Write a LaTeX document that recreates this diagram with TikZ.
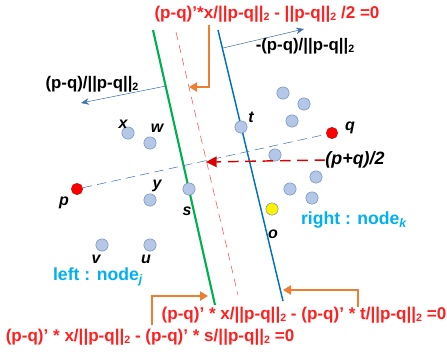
\documentclass[tikz,border=0pt]{standalone}
\usepackage{fontspec}
\setmainfont{Liberation Sans}
\usetikzlibrary{arrows.meta}

\definecolor{eqred}{RGB}{255,32,32}
\definecolor{sepgreen}{RGB}{0,176,80}
\definecolor{sepblue}{RGB}{0,112,192}
\definecolor{arrblue}{RGB}{68,114,176}
\definecolor{brorange}{RGB}{237,125,49}
\definecolor{ptfill}{RGB}{180,199,231}
\definecolor{ptdraw}{RGB}{110,140,190}
\definecolor{nodecyan}{RGB}{0,176,240}

\newcommand{\nrm}[1]{||#1||\raisebox{-0.25ex}{\fontsize{8}{8}\selectfont 2}}

\tikzset{
  pt/.style={circle, draw=ptdraw, fill=ptfill, minimum size=9.2pt, inner sep=0pt},
  redpt/.style={circle, draw=red!80!black, fill=red, minimum size=8.5pt, inner sep=0pt},
  yelpt/.style={circle, draw=ptdraw, fill=yellow, minimum size=9.2pt, inner sep=0pt},
  lbl/.style={font=\bfseries\itshape\fontsize{12}{12}\selectfont, inner sep=0pt},
  eq/.style={text=eqred, font=\bfseries\fontsize{12.8}{14}\selectfont, inner sep=0pt},
  vec/.style={font=\bfseries\fontsize{12.6}{14}\selectfont, inner sep=0pt},
  side/.style={text=nodecyan, font=\bfseries\fontsize{13.2}{14}\selectfont, inner sep=0pt},
  bracket/.style={brorange, thick, -{Triangle[length=6pt,width=7pt]}},
  normal/.style={arrblue, thin, -{Stealth[length=6pt,width=5pt]}}
}

\begin{document}
\begin{tikzpicture}[x=0.75pt,y=-0.75pt]
\useasboundingbox (0,0) rectangle (447,358);

% separating lines
\coordinate (g1) at (153,30);
\coordinate (g2) at (215,305);
\coordinate (m1) at (176,32);
\coordinate (m2) at (238,295);
\coordinate (b1) at (218,30);
\coordinate (b2) at (283,301);
\draw[sepgreen, line width=1.6pt] (g1) -- (g2);
\draw[red!70, dashed, dash pattern=on 6pt off 4pt] (m1) -- (m2);
\draw[sepblue, line width=1.1pt] (b1) -- (b2);

% data points
\node[pt] (x) at (128,133) {};
\node[pt] (w) at (150,143) {};
\node[pt] (t) at (241,127) {};
\node[pt] (r1) at (283,93) {};
\node[pt] (r2) at (304,104) {};
\node[pt] (r3) at (292,121) {};
\node[pt] (r4) at (275,155) {};
\node[pt] (r5) at (316,177) {};
\node[pt] (r6) at (290,189) {};
\node[pt] (r7) at (312,198) {};
\node[yelpt] (o) at (272,209) {};
\node[pt] (y) at (150,200) {};
\node[pt] (s) at (189,189) {};
\node[pt] (v) at (102,245) {};
\node[pt] (u) at (150,245) {};

% p, q and the line between them
\node[redpt] (p) at (77,189) {};
\node[redpt] (q) at (332,133) {};
\draw[arrblue, dashed, dash pattern=on 7pt off 4pt] (p) -- (q);

% point labels
\node[lbl] (xl) at (123,124) {x};
\node[lbl] (wl) at (157,128) {w};
\node[lbl] (tl) at (251,117) {t};
\node[lbl] (ql) at (350,128) {q};
\node[lbl] (pl) at (64,203) {p};
\node[lbl] (yl) at (157,186) {y};
\node[lbl] (sl) at (187,211) {s};
\node[lbl] (vl) at (96,259) {v};
\node[lbl] (ul) at (146,259) {u};
\node[lbl] (ol) at (273,234) {o};

% midpoint
\coordinate (mid) at (206,162);
\node[lbl, font=\bfseries\itshape\fontsize{13.4}{14}\selectfont] (midl) at (355,160) {(p+q)/2};
\draw[red!85!black, dashed, line width=1.1pt, dash pattern=on 8pt off 5pt,
      -{Triangle[length=8pt,width=8pt]}] (midl.west) -- (mid);

% normal directions
\coordinate (nb) at (223,48);
\coordinate (nbt) at (304,29);
\coordinate (ng) at (166,86);
\coordinate (ngt) at (81,103);
\draw[normal] (nb) -- (nbt);
\draw[normal] (ng) -- (ngt);
\node[vec] (nq) at (305,46) {-(p-q)/\nrm{p-q}};
\node[vec] (np) at (92,84) {(p-q)/\nrm{p-q}};

% equations
\node[eq] (eqm) at (267,14) {(p-q)'*x/\nrm{p-q} - \nrm{p-q} /2 =0};
\node[eq] (eqt) at (304,315) {(p-q)' * x/\nrm{p-q} - (p-q)' * t/\nrm{p-q} =0};
\node[eq] (eqs) at (150,337) {(p-q)' * x/\nrm{p-q} - (p-q)' * s/\nrm{p-q} =0};

% brackets to the lines
\coordinate (cm) at (209,25);
\coordinate (cmt) at (189,87);
\coordinate (ct) at (358,307);
\coordinate (ctt) at (283,290);
\coordinate (cs) at (152,325);
\coordinate (cst) at (208,296);
\draw[bracket] (cm) |- (cmt);
\draw[bracket] (ct) |- (ctt);
\draw[bracket] (cs) |- (cst);

% the two sides
\node[side] (right) at (354,220) {right : node\textsubscript{\itshape k}};
\node[side] (left) at (98,277) {left : node\textsubscript{\itshape j}};
\end{tikzpicture}
\end{document}
